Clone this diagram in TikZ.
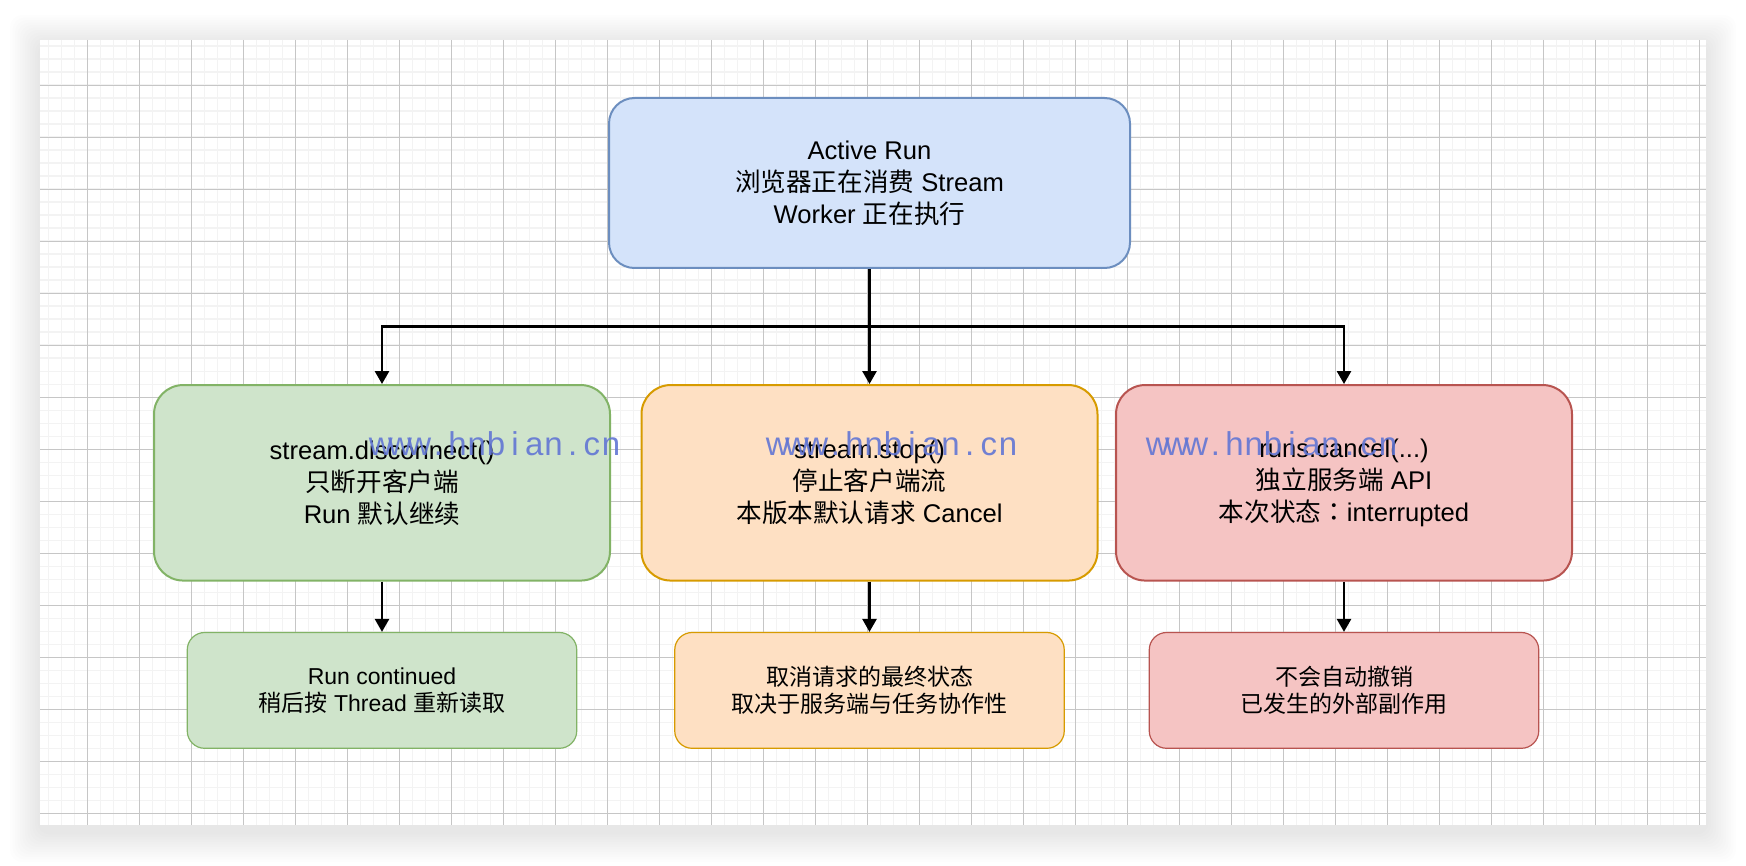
\documentclass[tikz,border=0pt]{standalone}
\usepackage{fontspec}
\setmainfont{Liberation Sans}
\newfontfamily\cjk{Noto Sans CJK SC}
\newfontfamily\cjktc{Noto Sans CJK TC}
\usetikzlibrary{arrows.meta}

\definecolor{activefill}{HTML}{D4E3FA}
\definecolor{activeline}{HTML}{6C8EBF}
\definecolor{greenfill}{HTML}{CFE4CB}
\definecolor{greenline}{HTML}{82B366}
\definecolor{orangefill}{HTML}{FEE0C3}
\definecolor{orangeline}{HTML}{D79B00}
\definecolor{redfill}{HTML}{F5C4C3}
\definecolor{redline}{HTML}{B85450}
\definecolor{gridlight}{HTML}{F3F3F3}
\definecolor{griddark}{HTML}{C6C6C6}
\definecolor{wmblue}{RGB}{98,118,212}

% one letter of the watermark in a fixed cell
\newcommand\wmcell[1]{\makebox[9.6pt]{#1}}
\newcommand\hnbian{\wmcell{w}\wmcell{w}\wmcell{w}\wmcell{.}\wmcell{h}\wmcell{n}%
  \wmcell{b}\wmcell{i}\wmcell{a}\wmcell{n}\wmcell{.}\wmcell{c}\wmcell{n}}

\begin{document}
\begin{tikzpicture}[x=0.5pt,y=-0.5pt,
  gridminor/.style={draw=gridlight, line width=0.8pt},
  gridmajor/.style={draw=griddark, line width=0.5pt},
  bigbox/.style 2 args={draw=#1, fill=#2, line width=1pt, rounded corners=12.75pt,
    minimum width=260.5pt, minimum height=85pt, inner sep=0pt, align=center,
    font=\fontsize{12.8}{16}\selectfont},
  midbox/.style 2 args={draw=#1, fill=#2, line width=1pt, rounded corners=14.6pt,
    minimum width=228pt, minimum height=97.75pt, inner sep=0pt, align=center,
    font=\fontsize{12.8}{16}\selectfont},
  smallbox/.style 2 args={draw=#1, fill=#2, line width=0.6pt, rounded corners=8.7pt,
    minimum width=194.75pt, minimum height=57.9pt, inner sep=0pt, align=center,
    font=\fontsize{11.5}{13.4}\selectfont},
  flow/.style={draw=black, line width=1.3pt, -{Triangle[width=7pt,length=6.5pt]}},
  wmtext/.style={text=wmblue, text opacity=0.9, anchor=base, inner sep=0pt,
    font=\fontsize{16.5}{16.5}\selectfont}]

  % Page and canvas
  \fill[white] (0,0) rectangle (1746,866);
  \useasboundingbox (0,0) rectangle (1746,866);
  \foreach \k in {1,...,12}
    \fill[black, opacity=0.008, rounded corners=6pt]
      ({40-2.5*\k},{40-2.5*\k+5}) rectangle ({1706+2.5*\k},{825+2.5*\k+7});
  \fill[white] (40,40) rectangle (1706,825);

  % Grid
  \foreach \i in {0,...,127} \draw[gridminor] ({48.3+13*\i},40) -- ({48.3+13*\i},825);
  \foreach \j in {0,...,59} \draw[gridminor] (40,{46.3+13*\j}) -- (1706,{46.3+13*\j});
  \foreach \i in {0,...,31} \draw[gridmajor] ({87.3+52*\i},40) -- ({87.3+52*\i},825);
  \foreach \j in {0,...,14} \draw[gridmajor] (40,{85.3+52*\j}) -- (1706,{85.3+52*\j});

  % Active run
  \node[bigbox={activeline}{activefill}] (active) at (869.5,183)
    {Active Run\\ {\cjk 浏览器正在消费} Stream\\ Worker {\cjk 正在执行}};

  % Three ways out
  \node[midbox={greenline}{greenfill}] (disc) at (382,482.8)
    {stream.disconnect()\\ {\cjk 只断开客户端}\\ Run {\cjk 默认继续}};
  \node[midbox={orangeline}{orangefill}] (stop) at (869.5,482.8)
    {stream.stop()\\ {\cjk 停止客户端流}\\ {\cjk 本版本默认请求} Cancel};
  \node[midbox={redline}{redfill}] (cancel) at (1344,482.8)
    {runs.cancel(...)\\ {\cjk 独立服务端} API\\ {\cjk 本次状态}{\cjktc ：}interrupted};

  % Outcomes
  \node[smallbox={greenline}{greenfill}] (contd) at (382,690.4)
    {Run continued\\ {\cjk 稍后按} Thread {\cjk 重新读取}};
  \node[smallbox={orangeline}{orangefill}] (final) at (869.5,690.4)
    {{\cjk 取消请求的最终状态}\\ {\cjk 取决于服务端与任务协作性}};
  \node[smallbox={redline}{redfill}] (noundo) at (1344,690.4)
    {{\cjk 不会自动撤销}\\ {\cjk 已发生的外部副作用}};

  % Connectors
  \coordinate (fork) at (869.5,326.7);
  \draw[flow] (active) -- (stop);
  \draw[flow] (fork) -| (disc);
  \draw[flow] (fork) -| (cancel);
  \draw[flow] (disc) -- (contd);
  \draw[flow] (stop) -- (final);
  \draw[flow] (cancel) -- (noundo);

  % Watermark
  \node[wmtext] (wm1) at (496,455) {\hnbian};
  \node[wmtext] (wm2) at (893,455) {\hnbian};
  \node[wmtext] (wm3) at (1273,455) {\hnbian};

\end{tikzpicture}
\end{document}
